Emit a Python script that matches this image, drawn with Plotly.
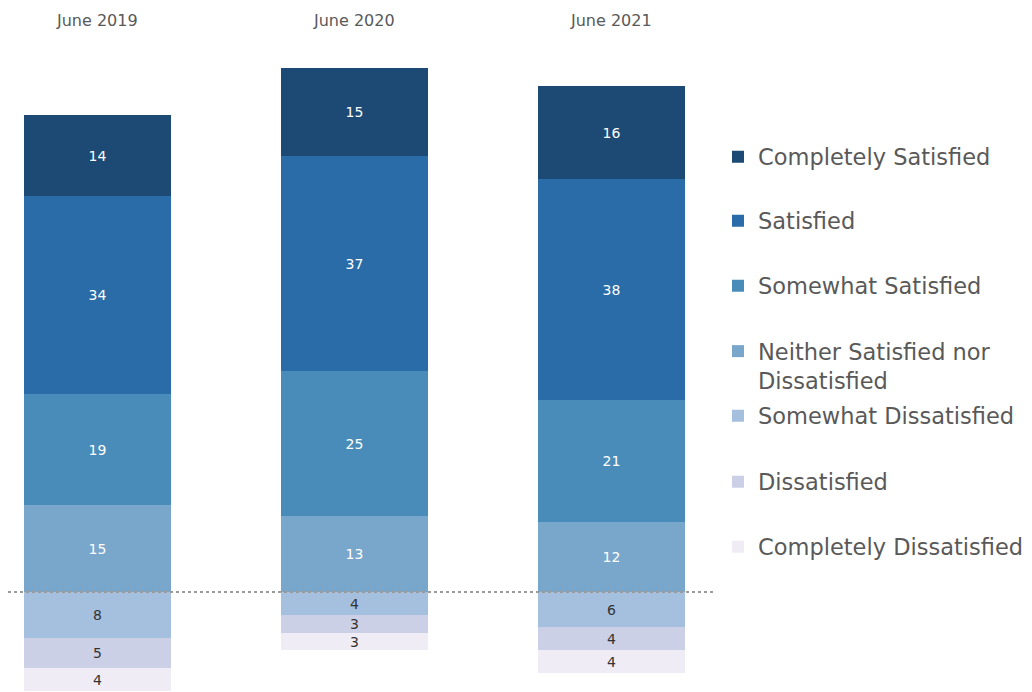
import plotly.graph_objects as go

periods = ["June 2019", "June 2020", "June 2021"]

series_names = [
    "Completely Satisfied",
    "Satisfied",
    "Somewhat Satisfied",
    "Neither Satisfied nor<br>Dissatisfied",
    "Somewhat Dissatisfied",
    "Dissatisfied",
    "Completely Dissatisfied",
]
completely_satisfied = [14, 15, 16]
satisfied = [34, 37, 38]
somewhat_satisfied = [19, 25, 21]
neither = [15, 13, 12]
somewhat_dissatisfied = [8, 4, 6]
dissatisfied = [5, 3, 4]
completely_dissatisfied = [4, 3, 4]

colors = ["#1c4a75", "#2a6ca7", "#4a8cb9", "#79a6cb", "#a5c0de", "#ccd0e6", "#efecf5"]
text_colors = ["white", "white", "white", "white", "#333333", "#333333", "#333333"]

values = [completely_satisfied, satisfied, somewhat_satisfied, neither,
          somewhat_dissatisfied, dissatisfied, completely_dissatisfied]
negative = [False, False, False, False, True, True, True]

FONT = "DejaVu Sans"
W, H = 1024, 684
xpos = list(range(len(periods)))

# vertical centres (figure px) of each legend entry
legend_centres = [149, 213, 278, 358, 408, 474, 539]

fig = go.Figure()
order = [3, 2, 1, 0, 4, 5, 6]
for i in order:
    vals = values[i]
    y = [-v for v in vals] if negative[i] else vals
    lg = "legend" if i == 0 else f"legend{i + 1}"
    fig.add_trace(go.Bar(
        x=xpos, y=y, name=series_names[i],
        marker=dict(color=colors[i], line=dict(width=0)),
        width=0.572,
        text=[str(v) for v in vals],
        textposition="inside", insidetextanchor="middle",
        textangle=0, constraintext="none",
        textfont=dict(color=text_colors[i], size=14, family=FONT),
        legend=lg,
        hoverinfo="skip",
    ))

for xi, p in zip(xpos, periods):
    fig.add_annotation(x=xi, xref="x", y=1 - 12 / H, yref="paper",
                       text=p, showarrow=False, yanchor="middle",
                       font=dict(size=16, color="#595959", family=FONT))

fig.add_shape(type="line", xref="x", yref="y", x0=-0.3463, x1=2.401, y0=0, y1=0,
              line=dict(color="#9a9a9a", width=2, dash="dot"), layer="above")

legend_layout = {}
for i, c in enumerate(legend_centres):
    key = "legend" if i == 0 else f"legend{i + 1}"
    legend_layout[key] = dict(
        x=1 - 2 / 712, xanchor="left", y=1 - c / H, yanchor="middle",
        valign="top", font=dict(size=22.5, color="#595959", family=FONT),
        itemwidth=30, bgcolor="rgba(0,0,0,0)",
    )

fig.update_layout(
    width=W, height=H,
    barmode="relative", bargap=0,
    margin=dict(l=0, r=312, t=0, b=0),
    plot_bgcolor="white", paper_bgcolor="white",
    xaxis=dict(range=[-0.3463, 2.424], visible=False, fixedrange=True),
    yaxis=dict(range=[-17.2, 100.38], visible=False, fixedrange=True),
    showlegend=True,
    uniformtext=dict(minsize=14, mode="show"),
    font=dict(family=FONT),
    **legend_layout,
)

fig.write_html("out.html")
